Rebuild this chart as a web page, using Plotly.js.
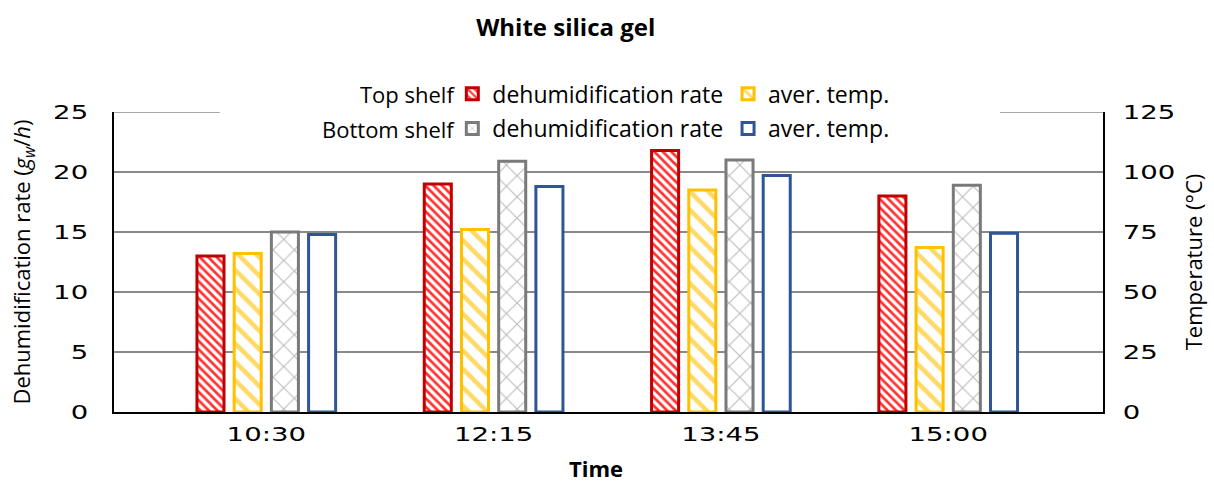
<!DOCTYPE html>
<html>
<head>
<meta charset="utf-8">
<script src="https://cdn.plot.ly/plotly-3.0.1.min.js"></script>
<style>
  html, body { margin: 0; padding: 0; background: #fff; }
  #chart { width: 1214px; height: 485px; }
</style>
</head>
<body>
<div id="chart"></div>
<script>
// Sampling times
const times = ['10:30', '12:15', '13:45', '15:00'];

// Dehumidification rate (g_w/h)
const topRate = [13, 19, 21.8, 18];
const bottomRate = [15, 20.9, 21, 18.9];

// Average temperature (°C)
const topTemp = [66, 76, 92.5, 68.5];
const bottomTemp = [74, 94, 98.5, 74.5];

// Axis ticks
const rateTicks = [0, 5, 10, 15, 20, 25];
const rateGrid = [5, 10, 15, 20];
const tempTicks = [0, 25, 50, 75, 100, 125];

// Legend row labels
const shelves = ['Top shelf', 'Bottom shelf'];

const barW = 0.119;
const pitch = 0.1637;
const off = k => (k - 1.5) * pitch - barW / 2;

const textFont = 'Open Sans, Noto Sans, sans-serif';
const tickFont = {family: 'DejaVu Sans, sans-serif', size: 19, color: '#000'};
const gridColor = '#8a8a8a';

const traces = [
  {
    type: 'bar', x: times, y: topRate, name: 'dehumidification rate',
    legend: 'legend', yaxis: 'y', width: barW, offset: off(0),
    marker: {
      color: '#ffffff',
      line: {color: '#c00000', width: 3},
      pattern: {shape: '\\', fgcolor: '#ff3030', bgcolor: '#ffffff', size: 6, solidity: 0.45}
    }
  },
  {
    type: 'bar', x: times, y: topTemp, name: 'aver. temp.',
    legend: 'legend', yaxis: 'y2', width: barW, offset: off(1),
    marker: {
      color: '#ffffff',
      line: {color: '#ffc000', width: 3},
      pattern: {shape: '\\', fgcolor: '#ffd966', bgcolor: '#ffffff', size: 13, solidity: 0.35}
    }
  },
  {
    type: 'bar', x: times, y: bottomRate, name: 'dehumidification rate',
    legend: 'legend2', yaxis: 'y', width: barW, offset: off(2),
    marker: {
      color: '#ffffff',
      line: {color: '#7a7a7a', width: 3},
      pattern: {shape: 'x', fgcolor: '#bdbdbd', bgcolor: '#ffffff', size: 15, solidity: 0.15}
    }
  },
  {
    type: 'bar', x: times, y: bottomTemp, name: 'aver. temp.',
    legend: 'legend2', yaxis: 'y2', width: barW, offset: off(3),
    marker: {
      color: '#ffffff',
      line: {color: '#2f5597', width: 3}
    }
  }
];

const legendCommon = {
  orientation: 'h', xref: 'paper', yref: 'paper',
  x: 0.789, xanchor: 'right', yanchor: 'middle',
  bgcolor: 'rgba(255,255,255,0)', borderwidth: 0,
  font: {family: textFont, size: 23, color: '#000'},
  itemwidth: 30, tracegroupgap: 0
};

const rowY = [1.061, 0.945];

const layout = {
  width: 1214, height: 485,
  margin: {l: 114, r: 111, t: 112, b: 73, autoexpand: false},
  paper_bgcolor: '#ffffff', plot_bgcolor: '#ffffff',
  title: {
    text: '<b>White silica gel</b>',
    font: {family: textFont, size: 24, color: '#000'},
    xref: 'container', yref: 'container',
    x: 0.466, xanchor: 'center', y: 0.944, yanchor: 'middle'
  },
  showlegend: true,
  legend: Object.assign({}, legendCommon, {y: rowY[0]}),
  legend2: Object.assign({}, legendCommon, {y: rowY[1]}),
  xaxis: {
    type: 'category',
    range: [-0.67, 3.681],
    showgrid: false, zeroline: false,
    showline: true, linecolor: '#000', linewidth: 2,
    ticks: '', ticklabelstandoff: 4,
    tickfont: tickFont,
    fixedrange: true
  },
  yaxis: {
    range: [0, 25], tickvals: rateTicks, ticktext: rateTicks.map(String),
    showgrid: false,
    minor: {tickvals: rateGrid, showgrid: true, gridcolor: gridColor, gridwidth: 1.6, ticks: ''},
    zeroline: false,
    showline: true, linecolor: '#000', linewidth: 2,
    ticks: '', ticklabelstandoff: 20,
    tickfont: tickFont,
    title: {
      text: 'Dehumidification rate (<i>g</i><sub><i>w</i></sub>/<i>h</i>)',
      font: {family: textFont, size: 22, color: '#000'}, standoff: 27
    },
    fixedrange: true
  },
  yaxis2: {
    overlaying: 'y', side: 'right',
    range: [0, 125], tickvals: tempTicks, ticktext: tempTicks.map(String),
    showgrid: false, zeroline: false,
    showline: true, linecolor: '#000', linewidth: 2,
    ticks: '', ticklabelstandoff: 14,
    tickfont: tickFont,
    title: {text: 'Temperature (°C)', font: {family: textFont, size: 22, color: '#000'}, standoff: 29},
    fixedrange: true
  },
  annotations: [
    {
      text: '<b>Time</b>', xref: 'paper', yref: 'paper',
      x: (596 - 114) / 989, y: -(469 - 412.5) / 301, xanchor: 'center', yanchor: 'middle',
      showarrow: false, font: {family: textFont, size: 22, color: '#000'}
    }
  ].concat(shelves.map((s, i) => ({
    text: s, xref: 'paper', yref: 'paper',
    x: (457 - 114) / 989, y: rowY[i], xanchor: 'right', yanchor: 'middle',
    showarrow: false, font: {family: textFont, size: 22, color: '#000'}
  }))),
  shapes: [
    // top grid line at 25, broken where the legend sits
    {
      type: 'line', xref: 'paper', yref: 'y', layer: 'below',
      x0: 0, x1: 0.107, y0: 25, y1: 25,
      line: {color: gridColor, width: 1.6}
    },
    {
      type: 'line', xref: 'paper', yref: 'y', layer: 'below',
      x0: 0.896, x1: 1, y0: 25, y1: 25,
      line: {color: gridColor, width: 1.6}
    }
  ]
};

Plotly.newPlot('chart', traces, layout, {displayModeBar: false, staticPlot: true}).then(() => {
  // broad, extended numerals on the axes
  document.querySelectorAll('.xtick text, .ytick text, .y2tick text').forEach(t => {
    const w = t.getComputedTextLength();
    t.setAttribute('textLength', (w * 1.45).toFixed(1));
    t.setAttribute('lengthAdjust', 'spacingAndGlyphs');
  });
});
</script>
</body>
</html>
